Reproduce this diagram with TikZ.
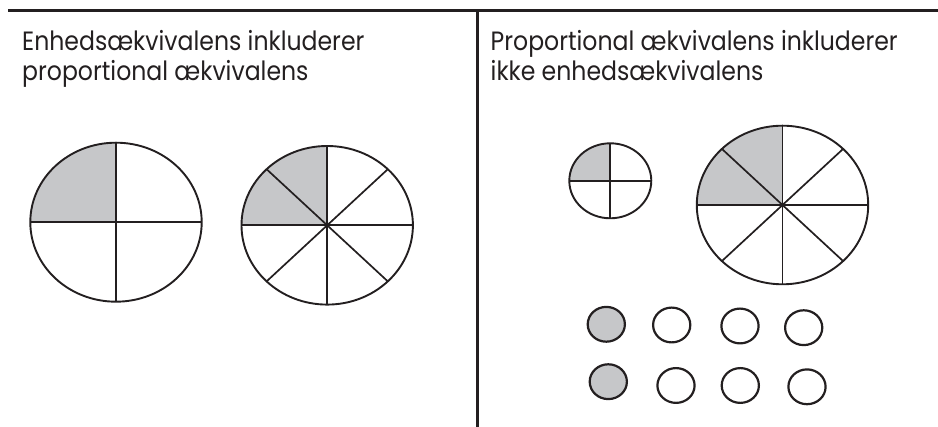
\documentclass[tikz,border=0pt]{standalone}
\usepackage{fontspec}
\setmainfont[FakeStretch=0.89]{Poppins}
\definecolor{ink}{HTML}{231F20}
\definecolor{sectorgray}{HTML}{C6C7C9}

% Pie divided into quarters, top-left quarter shaded: centre, x radius, y radius
\newcommand{\quarterpie}[4]{%
  \fill[sectorgray] (#1,#2) -- (#1,#2+#4)
      arc[start angle=90, end angle=180, x radius=#3, y radius=#4] -- cycle;
  \draw[divider] (#1-#3,#2) -- (#1+#3,#2) (#1,#2-#4) -- (#1,#2+#4);
  \draw[rim] (#1,#2) ellipse[x radius=#3, y radius=#4];
}
% Pie divided into eighths, two top-left eighths shaded
\newcommand{\eighthpie}[4]{%
  \fill[sectorgray] (#1,#2) -- (#1,#2+#4)
      arc[start angle=90, end angle=180, x radius=#3, y radius=#4] -- cycle;
  \draw[divider] (#1-#3,#2) -- (#1+#3,#2) (#1,#2-#4) -- (#1,#2+#4);
  \draw[divider] (#1,#2) +(45:#3 and #4) -- +(225:#3 and #4);
  \draw[divider] (#1,#2) +(135:#3 and #4) -- +(315:#3 and #4);
  \draw[rim] (#1,#2) ellipse[x radius=#3, y radius=#4];
}

\begin{document}
\begin{tikzpicture}[x=1pt, y=1pt,
  rim/.style={draw=ink, line width=1.9pt},
  divider/.style={draw=ink, line width=1.7pt},
  rule/.style={draw=ink, line width=2.8pt},
  heading/.style={text=ink, inner sep=0pt, anchor=base west,
    font=\fontsize{26.5}{30}\selectfont},
  token/.style={draw=ink, line width=2.2pt, x radius=18.6, y radius=17.4},
]
\useasboundingbox (0,0) rectangle (938,427);

% frame rules
\coordinate (ruleL) at (8,416.7);
\coordinate (ruleR) at (938,416.7);
\coordinate (splitT) at (477.2,416.7);
\coordinate (splitB) at (477.2,0);
\draw[rule] (ruleL) -- (ruleR);
\draw[rule] (splitT) -- (splitB);

% headings
\node[heading] (hl1) at (22,376) {Enhedsækvivalens inkluderer};
\node[heading] (hl2) at (22,346) {proportional ækvivalens};
\node[heading] (hr1) at (490.5,376) {Proportional ækvivalens inkluderer};
\node[heading] (hr2) at (490.5,346) {ikke enhedsækvivalens};

% left panel pies
\quarterpie{116}{204.8}{85.7}{79.5}
\eighthpie{327.2}{201.7}{85.7}{79.3}

% right panel pies
\quarterpie{610.3}{246.2}{41}{37.5}
\eighthpie{782.5}{222}{85.7}{79.3}

% counters
\fill[sectorgray] (606.3,102.7) ellipse[x radius=18.6, y radius=17.4];
\draw[token] (606.3,102.7) ellipse[x radius=18.6, y radius=17.4];
\draw[token] (671.7,102) ellipse[x radius=18.6, y radius=17.4];
\draw[token] (740,101) ellipse[x radius=18.6, y radius=17.4];
\draw[token] (803.7,99.3) ellipse[x radius=18.6, y radius=17.4];
\fill[sectorgray] (608.3,45.3) ellipse[x radius=18.6, y radius=17.4];
\draw[token] (608.3,45.3) ellipse[x radius=18.6, y radius=17.4];
\draw[token] (676,41.5) ellipse[x radius=18.6, y radius=17.4];
\draw[token] (740.3,41.5) ellipse[x radius=18.6, y radius=17.4];
\draw[token] (807,40.2) ellipse[x radius=18.6, y radius=17.4];
\end{tikzpicture}
\end{document}
